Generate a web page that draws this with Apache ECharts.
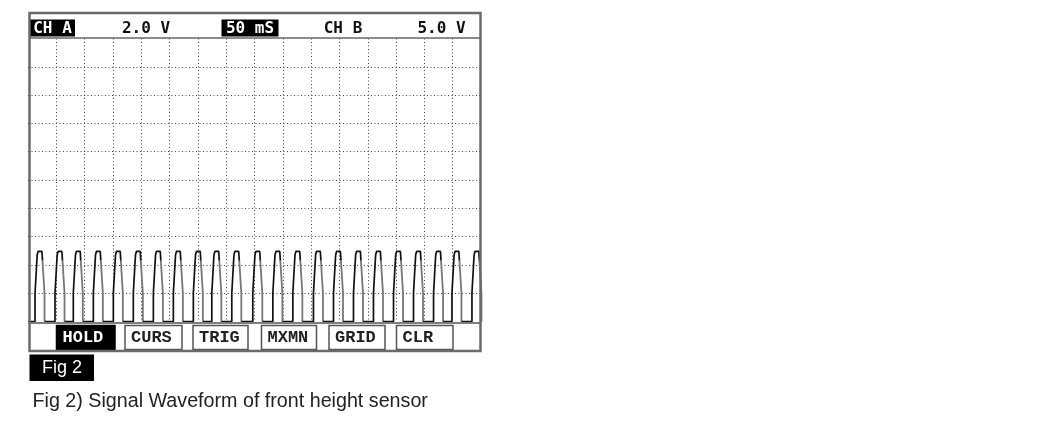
<!DOCTYPE html>
<html>
<head>
<meta charset="utf-8">
<script src="https://cdn.jsdelivr.net/npm/echarts@6/dist/echarts.min.js"></script>
<style>
html,body{margin:0;padding:0;background:#fff;}
#chart{width:1050px;height:424px;}
</style>
</head>
<body>
<div id="chart"></div>
<script>
// ---- data ----
// pulse start times (ms), 50 ms/div, 16 divisions
const pulseStartMs = [12.4, 47.7, 80.0, 115.4, 150.7, 186.0, 221.4, 256.7, 292.0, 324.6, 359.9, 397.0, 432.4, 467.7, 504.1, 539.5, 574.8, 610.1, 645.5, 680.8, 716.2, 748.7, 784.0];
// shape of one pulse: time offset (ms) from its start and voltage (V)
const riseOffsetMs = [0, 0, 3.8, 5.4, 12.2, 13.2];
const riseVolts    = [0, 2.0, 4.7, 4.95, 4.95, 4.3];
const fallOffsetMs = [13.2, 16.8, 16.8];
const fallVolts    = [4.3, 2.0, 0];
const baselineVolts = 0;
const timeRangeMs = [0, 800];
const voltRange = [0, 20];

const headerLabels = ['CH A', '2.0 V', '50 mS', 'CH B', '5.0 V'];
const menuLabels = ['HOLD', 'CURS', 'TRIG', 'MXMN', 'GRID', 'CLR'];
const figLabel = 'Fig 2';
const caption = 'Fig 2) Signal Waveform of front height sensor';

// ---- build series ----
const darkData = [[timeRangeMs[0], baselineVolts]];
const greyData = [];
pulseStartMs.forEach(function (s, i) {
  riseOffsetMs.forEach(function (o, k) { darkData.push([s + o, riseVolts[k]]); });
  darkData.push([s + riseOffsetMs[riseOffsetMs.length - 1], '-']);
  const endT = s + fallOffsetMs[fallOffsetMs.length - 1];
  darkData.push([endT, baselineVolts]);
  fallOffsetMs.forEach(function (o, k) { greyData.push([s + o, fallVolts[k]]); });
  greyData.push([endT, '-']);
});
darkData.push([timeRangeMs[1], baselineVolts]);

const chart = echarts.init(document.getElementById('chart'));

const hdrFont = 'bold 16px "DejaVu Sans Mono", monospace';
const btnFont = 'bold 17px "Liberation Mono", monospace';

const headerPos = [
  {cx: 52.5, box: [30, 19.5, 45, 17]},
  {cx: 146},
  {cx: 250, box: [221.5, 19.5, 57, 17]},
  {cx: 343},
  {cx: 441.5}
];
const btnPos = [[56.5, 58.5, true], [125, 57, false], [193, 55, false], [261.5, 55, false], [329, 56, false], [396.5, 56.5, false]];

const graphics = [];
// header area
graphics.push({type: 'rect', shape: {x: 30, y: 13, width: 450, height: 25}, style: {fill: '#fff'}, z: 90});
headerLabels.forEach(function (t, i) {
  const p = headerPos[i];
  if (p.box) {
    graphics.push({type: 'rect', shape: {x: p.box[0], y: p.box[1], width: p.box[2], height: p.box[3]}, style: {fill: '#000'}, z: 95});
  }
  graphics.push({type: 'text', x: p.cx, y: 28.5, style: {text: t, font: hdrFont, fill: p.box ? '#fff' : '#111', align: 'center', verticalAlign: 'middle'}, z: 96});
});
graphics.push({type: 'line', shape: {x1: 30, y1: 38, x2: 480, y2: 38}, style: {stroke: '#666', lineWidth: 1.5}, z: 97});
// menu area
graphics.push({type: 'rect', shape: {x: 30, y: 322.5, width: 450, height: 28}, style: {fill: '#fff'}, z: 90});
graphics.push({type: 'line', shape: {x1: 30, y1: 323, x2: 480, y2: 323}, style: {stroke: '#555', lineWidth: 1.5}, z: 97});
menuLabels.forEach(function (t, i) {
  const b = btnPos[i];
  graphics.push({type: 'rect', shape: {x: b[0], y: 325.5, width: b[1], height: 24}, style: {fill: b[2] ? '#000' : '#fff', stroke: b[2] ? '#000' : '#555', lineWidth: 1.5}, z: 95});
  graphics.push({type: 'text', x: b[0] + 6, y: 338, style: {text: t, font: btnFont, fill: b[2] ? '#fff' : '#222', align: 'left', verticalAlign: 'middle'}, z: 96});
});
// outer frame
graphics.push({type: 'rect', shape: {x: 29.5, y: 13, width: 451, height: 338}, style: {fill: 'none', stroke: '#6a6a6a', lineWidth: 2.5}, z: 99});
// fig label
graphics.push({type: 'rect', shape: {x: 29.5, y: 354.5, width: 64.5, height: 26.5}, style: {fill: '#000'}, z: 95});
graphics.push({type: 'text', x: 62, y: 368, style: {text: figLabel, font: '18px "Liberation Sans", Arial, sans-serif', fill: '#fff', align: 'center', verticalAlign: 'middle'}, z: 96});
// caption
graphics.push({type: 'text', x: 32.5, y: 402, style: {text: caption, font: '19.7px "Liberation Sans", Arial, sans-serif', fill: '#222', align: 'left', verticalAlign: 'middle'}, z: 96});

const option = {
  animation: false,
  backgroundColor: '#fff',
  grid: {left: 28, top: 38.5, width: 453, height: 283, containLabel: false},
  xAxis: {
    type: 'value', min: timeRangeMs[0], max: timeRangeMs[1], interval: 50,
    axisLabel: {show: false}, axisTick: {show: false}, axisLine: {show: false},
    splitLine: {show: true, showMinLine: false, showMaxLine: false, lineStyle: {color: '#444', width: 1, type: [1, 2.5]}}
  },
  yAxis: {
    type: 'value', min: voltRange[0], max: voltRange[1], interval: 2,
    axisLabel: {show: false}, axisTick: {show: false}, axisLine: {show: false},
    splitLine: {show: true, showMinLine: false, showMaxLine: false, lineStyle: {color: '#444', width: 1, type: [1, 2.5]}}
  },
  series: [
    {type: 'line', data: darkData, showSymbol: false, symbol: 'none', connectNulls: false, lineStyle: {color: '#111', width: 1.7}, z: 3},
    {type: 'line', data: greyData, showSymbol: false, symbol: 'none', connectNulls: false, lineStyle: {color: '#777', width: 1.8}, z: 2}
  ],
  graphic: graphics
};
chart.setOption(option);
</script>
</body>
</html>
